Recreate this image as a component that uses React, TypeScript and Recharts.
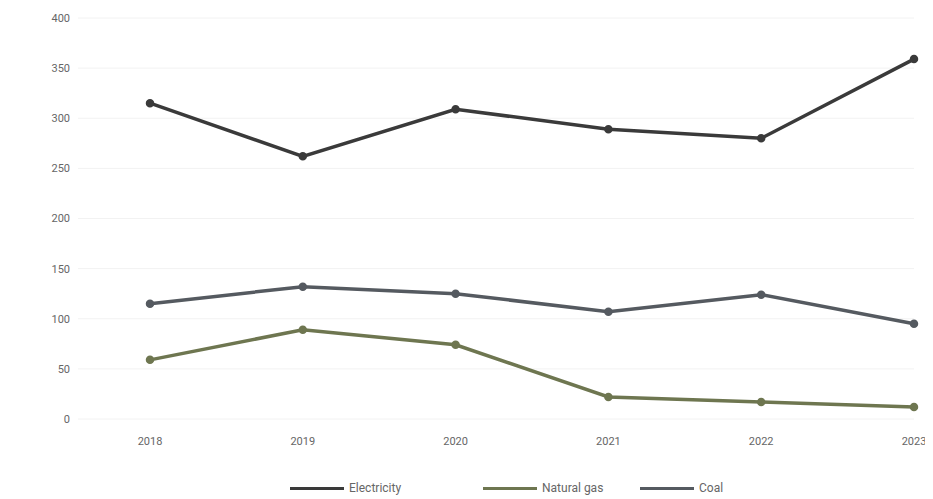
import { LineChart, Line, XAxis, YAxis, CartesianGrid, Legend } from "recharts";

const YEARS = ["2018", "2019", "2020", "2021", "2022", "2023"];
const ELECTRICITY = [315, 262, 309, 289, 280, 359];
const NATURAL_GAS = [115, 132, 125, 107, 124, 95];
const COAL = [59, 89, 74, 22, 17, 12];
const Y_TICKS = [0, 50, 100, 150, 200, 250, 300, 350, 400];

const SERIES = [
  { key: "electricity", name: "Electricity", color: "#3a3a3a", width: 193 },
  { key: "coal", name: "Natural gas", color: "#6e7650", width: 157 },
  { key: "gas", name: "Coal", color: "#555a60", width: 140 },
];

const data = YEARS.map((year, i) => ({
  year,
  electricity: ELECTRICITY[i],
  gas: NATURAL_GAS[i],
  coal: COAL[i],
}));

const LegendRow = () => (
  <div style={{ display: "flex", paddingLeft: 282, fontSize: 12, color: "#666", height: 18, alignItems: "center" }}>
    {SERIES.map((s) => (
      <div key={s.key} style={{ display: "flex", alignItems: "center", gap: 5, width: s.width }}>
        <span style={{ display: "inline-block", width: 54, height: 3, background: s.color }} />
        <span>{s.name}</span>
      </div>
    ))}
  </div>
);

export default function App() {
  return (
    <div style={{ fontFamily: "Roboto, sans-serif" }}>
      <LineChart width={925} height={489} data={data} margin={{ top: 10, right: 19, left: 0, bottom: 0 }}>
        <CartesianGrid stroke="#f2f2f2" vertical={false} />
        <XAxis
          dataKey="year"
          padding={{ left: 72, right: 0 }}
          axisLine={false}
          tickLine={false}
          tick={{ fill: "#666", fontSize: 11 }}
          tickMargin={12}
          height={60}
        />
        <YAxis
          domain={[0, 400]}
          ticks={Y_TICKS}
          axisLine={false}
          tickLine={false}
          tick={{ fill: "#666", fontSize: 11 }}
          width={70}
        />
        <Legend verticalAlign="bottom" content={() => <LegendRow />} />
        {SERIES.map((s) => (
          <Line
            key={s.key}
            type="linear"
            dataKey={s.key}
            name={s.name}
            stroke={s.color}
            strokeWidth={3.5}
            dot={{ r: 2.5, fill: s.color, stroke: s.color }}
            isAnimationActive={false}
          />
        ))}
      </LineChart>
    </div>
  );
}
